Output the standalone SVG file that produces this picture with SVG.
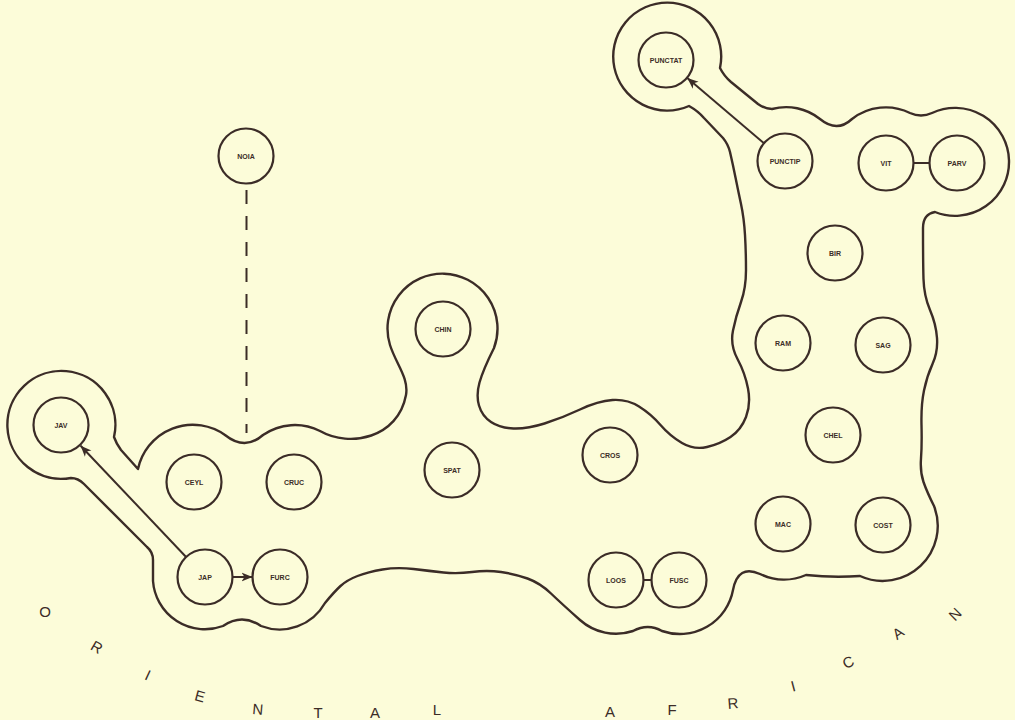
<svg xmlns="http://www.w3.org/2000/svg" width="1015" height="720" viewBox="0 0 1015 720">
<defs>
<style>
.node circle{fill:none;stroke:#3b2c27;stroke-width:2.2}
.node text{font-family:"Liberation Sans",Arial,sans-serif;font-size:7px;font-weight:bold;fill:#3b2c27;text-anchor:middle;dominant-baseline:central}
.edge{stroke:#3b2c27;stroke-width:2;fill:none}
.outline{fill:none;stroke:#3b2c27;stroke-width:2.4;stroke-linejoin:round}
.lbl{font-family:"Liberation Sans",Arial,sans-serif;font-size:15px;fill:#3b2c27;text-anchor:middle;dominant-baseline:central}
</style>
<marker id="ah" markerUnits="userSpaceOnUse" markerWidth="12" markerHeight="10" refX="11" refY="5" orient="auto"><path d="M0,0.5 L11,5 L0,9.5 L3,5 z" fill="#3b2c27"/></marker>
</defs>
<rect width="1015" height="720" fill="#fcfcd9"/>
<g id="outline">
<path class="outline" d="M 71,478 A 54 54 0 1 1 114,437 Q 116,443 121,450 L 138,469 A 56 56 0 0 1 225,435 Q 245,451 263,435 A 56 56 0 0 1 320,431 C 350,448 398,438 406,395 C 409,378 396,364 390,345 A 55 55 0 1 1 494,348 Q 483,370 479.5,382.5 Q 476,395 479,405.5 Q 482,416 491,422 Q 500,428 513.5,428.5 Q 527,429 544.5,423.5 Q 562,418 580,409.5 Q 598,401 612.5,400 Q 627,399 639,406.5 Q 651,414 660.5,425 Q 670,436 682,443 Q 694,450 707,447 Q 720,444 730.5,437 Q 741,430 746,417 Q 751,404 748,388.5 Q 745,373 737.5,359 Q 730,345 733,330.5 Q 736,316 741,302 Q 746,288 746,270 Q 746,252 745,235 Q 744,218 741,204 Q 738,190 735.5,177.5 Q 733,165 730,152 Q 728,144 723,138 L 704,118 Q 698,111 689,106 A 54 54 0 1 1 720,68 Q 724,76 731,82 L 758,104 Q 765,109 772,109 A 54 54 0 0 1 820,119 Q 837,133 852,119 A 55 55 0 0 1 910,113 Q 921,118 932,113 A 54 54 0 1 1 935,212 Q 923,214 923,228 Q 923,262 923.5,279 Q 924,296 930,310 Q 936,324 937,338 Q 938,352 932.5,364 Q 927,376 924,390.5 Q 921,405 921.5,425 Q 922,445 921,458.5 Q 920,472 923.5,482 Q 927,492 934,506 A 55 55 0 0 1 860,576 Q 833,578 806,575 A 55 55 0 0 1 760,574 Q 738,564 733,590 A 54 54 0 0 1 662,631 Q 648,623 633,631 A 54 54 0 0 1 580,620 Q 562,604 551,593.5 Q 540,583 527.5,578.5 Q 515,574 501,572 Q 487,570 472,572 Q 457,574 443.5,572.5 Q 430,571 413.5,569 Q 397,567 382.5,569.5 Q 368,572 357.5,576 Q 347,580 340.5,586 Q 334,592 325,603 A 52 52 0 0 1 261,626 Q 242,613 223,626 A 52 52 0 0 1 153,581 L 153,560 Q 153,552 147,547 L 84,484 Q 78,478 71,478 Z"/>
</g>
<g id="connectors">
<line class="edge" x1="246.5" y1="190" x2="246.5" y2="433" stroke-dasharray="14 12"/>
<line class="edge" x1="186.1" y1="557" x2="80.6" y2="445.7" marker-end="url(#ah)"/>
<line class="edge" x1="232.5" y1="577" x2="252.5" y2="577" marker-end="url(#ah)"/>
<line class="edge" x1="764" y1="143.2" x2="687.3" y2="78.1" marker-end="url(#ah)"/>
<line class="edge" x1="913.5" y1="163" x2="929.5" y2="163"/>
<line class="edge" x1="643.5" y1="580" x2="651.5" y2="580"/>
</g>
<g id="NOIA" class="node"><circle cx="246" cy="156" r="27.5"/><text x="246" y="156">NOIA</text></g>
<g id="JAV" class="node"><circle cx="61" cy="425" r="27.5"/><text x="61" y="425">JAV</text></g>
<g id="CEYL" class="node"><circle cx="194" cy="482" r="27.5"/><text x="194" y="482">CEYL</text></g>
<g id="CRUC" class="node"><circle cx="294" cy="482" r="27.5"/><text x="294" y="482">CRUC</text></g>
<g id="CHIN" class="node"><circle cx="443" cy="329" r="27.5"/><text x="443" y="329">CHIN</text></g>
<g id="SPAT" class="node"><circle cx="452" cy="470" r="27.5"/><text x="452" y="470">SPAT</text></g>
<g id="CROS" class="node"><circle cx="610" cy="455" r="27.5"/><text x="610" y="455">CROS</text></g>
<g id="JAP" class="node"><circle cx="205" cy="577" r="27.5"/><text x="205" y="577">JAP</text></g>
<g id="FURC" class="node"><circle cx="280" cy="577" r="27.5"/><text x="280" y="577">FURC</text></g>
<g id="LOOS" class="node"><circle cx="616" cy="580" r="27.5"/><text x="616" y="580">LOOS</text></g>
<g id="FUSC" class="node"><circle cx="679" cy="580" r="27.5"/><text x="679" y="580">FUSC</text></g>
<g id="PUNCTAT" class="node"><circle cx="666" cy="60" r="27.5"/><text x="666" y="60">PUNCTAT</text></g>
<g id="PUNCTIP" class="node"><circle cx="785" cy="161" r="27.5"/><text x="785" y="161">PUNCTIP</text></g>
<g id="VIT" class="node"><circle cx="886" cy="163" r="27.5"/><text x="886" y="163">VIT</text></g>
<g id="PARV" class="node"><circle cx="957" cy="163" r="27.5"/><text x="957" y="163">PARV</text></g>
<g id="BIR" class="node"><circle cx="835" cy="253" r="27.5"/><text x="835" y="253">BIR</text></g>
<g id="RAM" class="node"><circle cx="783" cy="343" r="27.5"/><text x="783" y="343">RAM</text></g>
<g id="SAG" class="node"><circle cx="883" cy="345" r="27.5"/><text x="883" y="345">SAG</text></g>
<g id="CHEL" class="node"><circle cx="833" cy="435" r="27.5"/><text x="833" y="435">CHEL</text></g>
<g id="MAC" class="node"><circle cx="783" cy="524" r="27.5"/><text x="783" y="524">MAC</text></g>
<g id="COST" class="node"><circle cx="883" cy="525" r="27.5"/><text x="883" y="525">COST</text></g>
<g id="labels">
<text class="lbl" transform="translate(45,611)">O</text>
<text class="lbl" transform="translate(97,647) rotate(30)">R</text>
<text class="lbl" transform="translate(148,675) rotate(25)">I</text>
<text class="lbl" transform="translate(200,696) rotate(15)">E</text>
<text class="lbl" transform="translate(258,709) rotate(5)">N</text>
<text class="lbl" transform="translate(318,712)">T</text>
<text class="lbl" transform="translate(375,712)">A</text>
<text class="lbl" transform="translate(437,709)">L</text>
<text class="lbl" transform="translate(610,711)">A</text>
<text class="lbl" transform="translate(672,709)">F</text>
<text class="lbl" transform="translate(733,703) rotate(-5)">R</text>
<text class="lbl" transform="translate(793,686) rotate(-15)">I</text>
<text class="lbl" transform="translate(848,662) rotate(-25)">C</text>
<text class="lbl" transform="translate(898,633) rotate(-35)">A</text>
<text class="lbl" transform="translate(955,614) rotate(-45)">N</text>
</g>
</svg>
